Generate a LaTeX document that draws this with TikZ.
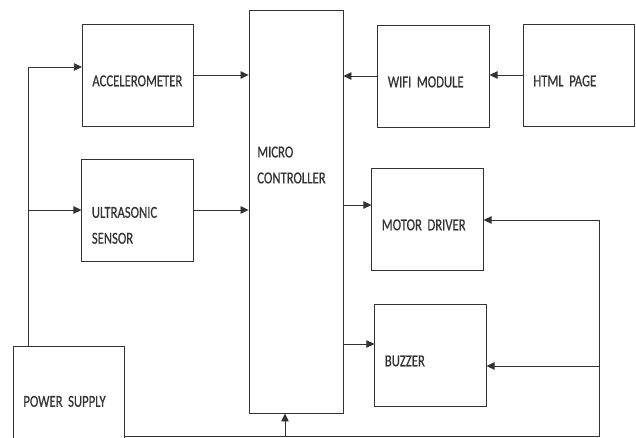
\documentclass[tikz,border=0pt]{standalone}
\usepackage{fontspec}
\setmainfont{Carlito}
\newfontfamily\blockfont[FakeStretch=0.76,FakeBold=0.6,WordSpace=0.7]{Carlito}
\usetikzlibrary{arrows.meta}
\begin{document}
\begin{tikzpicture}[x=0.04cm,y=-0.04cm,color=black!80,line width=0.8pt,
    block/.style={draw,line width=1pt,minimum width=4.45cm,minimum height=4.08cm,
        text width=3.65cm,inner xsep=0.4cm,align=left,
        text height=1.0cm,text depth=0.1cm,
        font=\blockfont\fontsize{19}{29.5}\selectfont},
    arr/.style={-{Triangle[length=0.32cm,width=0.3cm]}}]
    \useasboundingbox (0,0) rectangle (636,438);
    % blocks
    \node[block] (acc) at (138,75) {ACCELEROMETER};
    \node[block,text height=0.72cm] (ultra) at (137.5,210) {ULTRASONIC\\SENSOR};
    \node[draw,line width=1pt,minimum width=3.76cm,minimum height=16.12cm] (mcu) at (296,211.5) {};
    \node[anchor=west,align=left,font=\blockfont\fontsize{19}{29.5}\selectfont] (mcutext) at (254,165) {MICRO\\CONTROLLER};
    \node[block] (wifi) at (433.5,76) {WIFI MODULE};
    \node[block] (html) at (579,75) {HTML PAGE};
    \node[block] (motor) at (427.5,219) {MOTOR DRIVER};
    \node[block] (buzzer) at (430.5,355) {BUZZER};
    \node[block,minimum height=4.16cm,text height=0.8cm] (power) at (69,398) {POWER SUPPLY};
    \draw[line width=2pt] (mcu.south west) -- (mcu.south east);
    % supply lines
    \coordinate (pw) at (28,67);
    \coordinate (pu) at (28,210);
    \coordinate (bus) at (599,436);
    \coordinate (md) at (599,220);
    \coordinate (bz) at (599,366);
    \coordinate (mc) at (285,436);
    \draw (power.north -| pw) -- (pw);
    \draw[arr] (pw) -- (pw -| acc.west);
    \draw[arr] (pu) -- (pu -| ultra.west);
    \draw (power.east |- bus) -- (bus) -- (md);
    \draw[arr] (md) -- (md -| motor.east);
    \draw[arr] (bz) -- (bz -| buzzer.east);
    \draw[arr] (mc) -- (mc |- mcu.south);
    % signal lines
    \coordinate (om) at (0,205);
    \coordinate (ob) at (0,344);
    \draw[arr] (acc.east) -- (acc.east -| mcu.west);
    \draw[arr] (ultra.east) -- (ultra.east -| mcu.west);
    \draw[arr] (wifi.west) -- (wifi.west -| mcu.east);
    \draw[arr] (html.west) -- (html.west -| wifi.east);
    \draw[arr] (mcu.east |- om) -- (motor.west |- om);
    \draw[arr] (mcu.east |- ob) -- (buzzer.west |- ob);
\end{tikzpicture}
\end{document}
